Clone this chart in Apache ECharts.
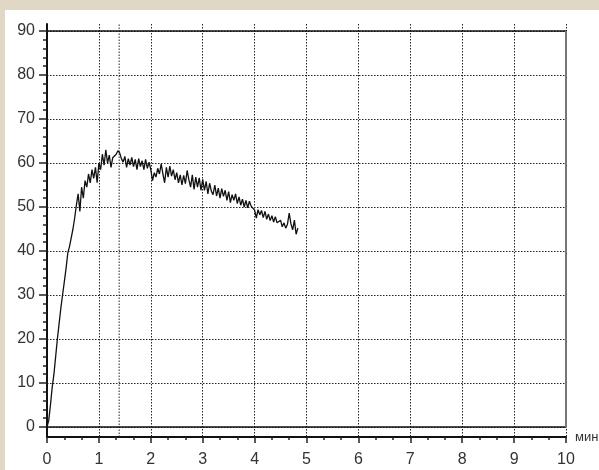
<!DOCTYPE html>
<html><head><meta charset="utf-8">
<script src="https://cdn.jsdelivr.net/npm/echarts@6/dist/echarts.min.js"></script>
<style>html,body{margin:0;padding:0;background:#e0d8c4}#c{width:599px;height:470px}</style>
</head><body><div id="c"></div>
<script>
// sampling interval of the recording, minutes
const sampleStepMin = 1/30;
// recorded values (one per sample)
const values = [0,1.5,5,9,12,16,20,23.5,27,30,33,36,39.5,41,43,45,47.5,50.5,53,49,
54.5,52,56,54.5,57.5,55.5,58.5,56.5,59,55.5,60,58.5,62,59.5,63,60,61.8,59,61.2,61.5,
62,62.8,62.3,61,60.2,61.5,59,61,59.5,61.3,59.2,60.8,58.5,61,59.2,60.5,58.5,60.8,58.8,60.2,
58.5,56,57.8,56.8,58.8,57.5,59.8,57.5,55.5,59,56.8,59.3,57,58.5,56.2,57.8,55.5,57.3,55,57.2,
55.3,58.3,56.2,54.5,57.3,54,56.8,54.5,56.6,53.8,56.3,53.8,55.8,53,55.4,53.6,52.8,55,52.5,54.3,
52,54.2,52.4,53.8,51.5,53.5,51,52.8,51.5,53,50.8,52.3,50.4,51.8,50,51.5,49.8,51.3,50.2,50.3,
49.3,47.5,49.4,48.2,49.2,47.6,49,47.2,48.4,46.9,48,46.6,47.8,46.4,46.7,47,45.5,46.4,45.2,46.1,
48.6,46.2,44.8,47,43.8,45.2];
const xTicks = [0,1,2,3,4,5,6,7,8,9,10];
const yTicks = [0,10,20,30,40,50,60,70,80,90];
const peakTime = 1.39;
const xName = 'мин';

const seriesData = values.map((v,i)=>[i*sampleStepMin, v]);
const chart = echarts.init(document.getElementById('c'), null, {renderer:'canvas'});
const font = '"Liberation Sans", Arial, sans-serif';
const dotted = {color:'#222', width:1, type:[1.5,1.5]};
chart.setOption({
  backgroundColor:'#e0d8c4',
  animation:false,
  graphic:[{type:'rect', shape:{x:5,y:10,width:594,height:460}, style:{fill:'#ffffff'}, z:-10}],
  grid:[
    {left:47, right:33, top:24, bottom:33, outerBoundsMode:'none', containLabel:false},
    {left:47, right:33, top:31, bottom:43, outerBoundsMode:'none', containLabel:false}
  ],
  xAxis:[
    {gridIndex:0, type:'value', min:xTicks[0], max:xTicks[xTicks.length-1], interval:1,
     axisLine:{show:true, onZero:false, lineStyle:{color:'#111', width:2}},
     axisTick:{show:true, inside:false, length:6, lineStyle:{color:'#222', width:1.5}},
     minorTick:{show:true, splitNumber:3, length:3, lineStyle:{color:'#222', width:1.5}},
     axisLabel:{show:true, margin:15, fontSize:16, color:'#333', fontFamily:font},
     splitLine:{show:true, lineStyle:dotted},
     name:xName, nameLocation:'end', nameGap:9,
     nameTextStyle:{fontSize:13, color:'#333', fontFamily:font, verticalAlign:'middle', padding:[0,0,8,0]}
    },
    {gridIndex:1, type:'value', min:xTicks[0], max:xTicks[xTicks.length-1], interval:1, show:false}
  ],
  yAxis:[
    {gridIndex:0, type:'value', min:0, max:1,
     axisLine:{show:true, lineStyle:{color:'#111', width:2}},
     axisTick:{show:false}, axisLabel:{show:false}, splitLine:{show:false}},
    {gridIndex:1, type:'value', min:yTicks[0], max:yTicks[yTicks.length-1], interval:10,
     axisLine:{show:false},
     axisTick:{show:true, inside:false, length:8, lineStyle:{color:'#222', width:1.5}},
     minorTick:{show:true, splitNumber:5, length:4, lineStyle:{color:'#222', width:1.5}},
     axisLabel:{show:true, margin:12, fontSize:16, color:'#333', fontFamily:font},
     splitLine:{show:true, lineStyle:dotted}}
  ],
  series:[
    {type:'line', xAxisIndex:0, yAxisIndex:0, data:[[peakTime,0],[peakTime,1]],
     symbol:'none', silent:true, lineStyle:dotted, z:1},
    {type:'line', xAxisIndex:1, yAxisIndex:1, data:seriesData, symbol:'none',
     lineStyle:{color:'#111', width:1.3}, z:5,
     markLine:{silent:true, symbol:'none', label:{show:false},
       data:[
         {yAxis:yTicks[0], lineStyle:{color:'#111', width:1.5, type:'solid'}},
         {yAxis:yTicks[yTicks.length-1], lineStyle:{color:'#111', width:1.5, type:'solid'}},
         {xAxis:xTicks[xTicks.length-1], lineStyle:{color:'#777', width:2, type:'solid'}}
       ]}
    }
  ]
});
</script></body></html>
